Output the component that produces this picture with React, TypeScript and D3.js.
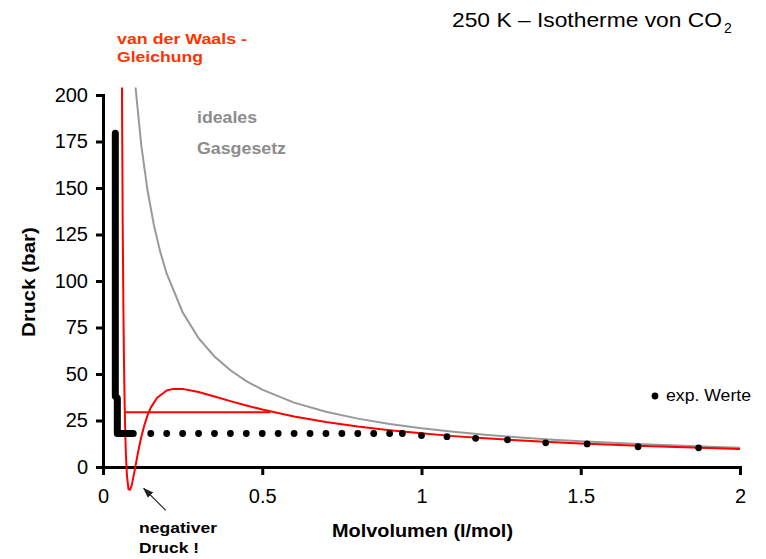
import { useEffect, useRef } from 'react';
import * as d3 from 'd3';

// ideal gas law curve (p = RT/V)
const idealV = [0.1, 0.12, 0.14, 0.16, 0.18, 0.2, 0.25, 0.3, 0.35, 0.4, 0.45, 0.5, 0.6, 0.7, 0.8, 0.9, 1.0, 1.1, 1.2, 1.3, 1.4, 1.5, 1.6, 1.7, 1.8, 1.9, 2.0];
const idealP = [207.9, 173.2, 148.5, 129.9, 115.5, 103.9, 83.2, 69.3, 59.4, 52.0, 46.2, 41.6, 34.6, 29.7, 26.0, 23.1, 20.8, 18.9, 17.3, 16.0, 14.8, 13.9, 13.0, 12.2, 11.5, 10.9, 10.4];

// van der Waals curve (red)
const vdwV = [0.058, 0.06, 0.062, 0.064, 0.066, 0.068, 0.07, 0.072, 0.075, 0.08, 0.085, 0.09, 0.1, 0.11, 0.12, 0.13, 0.14, 0.15, 0.17, 0.2, 0.22, 0.25, 0.3, 0.35, 0.4, 0.45, 0.5, 0.6, 0.7, 0.8, 0.9, 1.0, 1.1, 1.2, 1.3, 1.4, 1.5, 1.6, 1.7, 1.8, 1.9, 2.0];
const vdwP = [273, 188, 128.4, 85.8, 55.3, 33.4, 17.6, 6.5, -4.2, -12.0, -12.2, -10.0, -1.4, 7.9, 16.0, 22.6, 27.9, 31.9, 37.2, 41.1, 42.0, 42.0, 40.3, 37.9, 35.4, 33.1, 30.9, 27.2, 24.2, 21.8, 19.8, 18.1, 16.6, 15.4, 14.4, 13.5, 12.6, 11.9, 11.3, 10.7, 10.2, 9.7];

// horizontal red line (Maxwell)
const maxwellV = [0.0685, 0.525];
const maxwellP = [29.5, 29.5];

// experimental values: liquid branch (dense markers) and gas branch
const liquidV = [0.0387, 0.0387, 0.045, 0.045, 0.095];
const liquidP = [179.5, 38, 37, 18, 18];
const expV = [0.15, 0.2, 0.25, 0.3, 0.35, 0.4, 0.45, 0.5, 0.55, 0.6, 0.65, 0.7, 0.75, 0.8, 0.85, 0.9, 0.94, 1.0, 1.08, 1.17, 1.27, 1.39, 1.52, 1.68, 1.87];
const expP = [18, 18, 18, 18, 18, 18, 18, 18, 18, 18, 18, 18, 18, 18, 18, 18, 18, 16.9, 16.3, 15.4, 14.6, 13.0, 12.4, 10.9, 10.3];

const xTicks = [0, 0.5, 1, 1.5, 2];
const yTicks = [0, 25, 50, 75, 100, 125, 150, 175, 200];

const FONT = '"Liberation Sans", Arial, Helvetica, sans-serif';

const x = d3.scaleLinear().domain([0, 2]).range([103, 740]);
const y = d3.scaleLinear().domain([0, 200]).range([467, 95]);

const zip = (a: number[], b: number[]) => a.map((v, i) => [v, b[i]] as [number, number]);

const line = d3.line<[number, number]>()
  .x(d => x(d[0]))
  .y(d => y(d[1]));

export default function App() {
  const xAxisRef = useRef<SVGGElement>(null);
  const yAxisRef = useRef<SVGGElement>(null);

  useEffect(() => {
    if (!xAxisRef.current || !yAxisRef.current) return;

    const gx = d3.select(xAxisRef.current);
    gx.selectAll('*').remove();
    gx.call(
      d3.axisBottom(x).tickValues(xTicks).tickSize(8).tickSizeOuter(0).tickPadding(14)
        .tickFormat(d => String(d))
    );

    const gy = d3.select(yAxisRef.current);
    gy.selectAll('*').remove();
    gy.call(
      d3.axisLeft(y).tickValues(yTicks).tickSize(7).tickSizeOuter(0).tickPadding(8)
        .tickFormat(d => String(d))
    );

    [gx, gy].forEach(g => {
      g.select('.domain').attr('stroke', '#000').attr('stroke-width', 3).attr('stroke-linecap', 'square');
      g.selectAll('.tick line').attr('stroke', '#000').attr('stroke-width', 3);
      g.selectAll('.tick text')
        .attr('fill', '#000')
        .style('font-family', FONT)
        .style('font-size', '20px');
    });
  }, []);

  const arrowFrom: [number, number] = [x(0.197), y(-23.3)];
  const arrowTo: [number, number] = [x(0.128), y(-11.5)];

  return (
    <svg width={766} height={559} style={{ position: 'absolute', left: 0, top: 0, background: '#fff' }}
      fontFamily={FONT}>
      <defs>
        <clipPath id="plot-clip">
          <rect x={x(0)} y={y(204)} width={x(2) - x(0) + 4} height={y(-16) - y(204)} />
        </clipPath>
        <marker id="arrow-head" viewBox="0 0 10 10" refX="9" refY="5" markerWidth="9" markerHeight="9" orient="auto">
          <path d="M0,1.5 L10,5 L0,8.5 z" fill="#222" />
        </marker>
      </defs>

      {/* title */}
      <text x={452} y={27} fontSize={21} textLength={270} lengthAdjust="spacingAndGlyphs">250 K – Isotherme von CO</text>
      <text x={724} y={33} fontSize={14}>2</text>

      {/* axes */}
      <g ref={xAxisRef} transform={`translate(0,${y(0)})`} />
      <g ref={yAxisRef} transform={`translate(${x(0)},0)`} />

      <g clipPath="url(#plot-clip)">
        <path d={line(zip(idealV, idealP)) || ''} fill="none" stroke="#999" strokeWidth={2} />
        <path d={line(zip(vdwV, vdwP)) || ''} fill="none" stroke="#ff0000" strokeWidth={2} strokeLinejoin="round" />
        <path d={line(zip(maxwellV, maxwellP)) || ''} fill="none" stroke="#ff0000" strokeWidth={2} />
      </g>

      {/* experimental values */}
      <path d={line(zip(liquidV, liquidP)) || ''} fill="none" stroke="#000" strokeWidth={7}
        strokeLinecap="round" strokeLinejoin="round" />
      {zip(expV, expP).map((d, i) => (
        <circle key={i} cx={x(d[0])} cy={y(d[1])} r={3.4} fill="#000" />
      ))}

      {/* legend */}
      <circle cx={655} cy={396} r={3.4} fill="#000" />
      <text x={666} y={401} fontSize={16} textLength={85} lengthAdjust="spacingAndGlyphs">exp. Werte</text>

      {/* annotations */}
      <text x={117} y={44} fontSize={15} fontWeight="bold" fill="#ff3300" textLength={130} lengthAdjust="spacingAndGlyphs">van der Waals -</text>
      <text x={117} y={62} fontSize={15} fontWeight="bold" fill="#ff3300" textLength={86} lengthAdjust="spacingAndGlyphs">Gleichung</text>
      <text x={197} y={123} fontSize={16} fontWeight="bold" fill="#8c8c8c" textLength={60} lengthAdjust="spacingAndGlyphs">ideales</text>
      <text x={197} y={154} fontSize={16} fontWeight="bold" fill="#8c8c8c" textLength={89} lengthAdjust="spacingAndGlyphs">Gasgesetz</text>

      <line x1={arrowFrom[0]} y1={arrowFrom[1]} x2={arrowTo[0]} y2={arrowTo[1]} stroke="#222" strokeWidth={1.2}
        markerEnd="url(#arrow-head)" />
      <text x={139} y={533} fontSize={15} fontWeight="bold" textLength={78} lengthAdjust="spacingAndGlyphs">negativer</text>
      <text x={139} y={553} fontSize={15} fontWeight="bold" textLength={60} lengthAdjust="spacingAndGlyphs">Druck !</text>

      {/* axis titles */}
      <text x={332} y={537} fontSize={18} fontWeight="bold" textLength={181} lengthAdjust="spacingAndGlyphs">Molvolumen (l/mol)</text>
      <text transform="translate(35,337) rotate(-90)" fontSize={18} fontWeight="bold" textLength={110}
        lengthAdjust="spacingAndGlyphs">Druck (bar)</text>
    </svg>
  );
}
